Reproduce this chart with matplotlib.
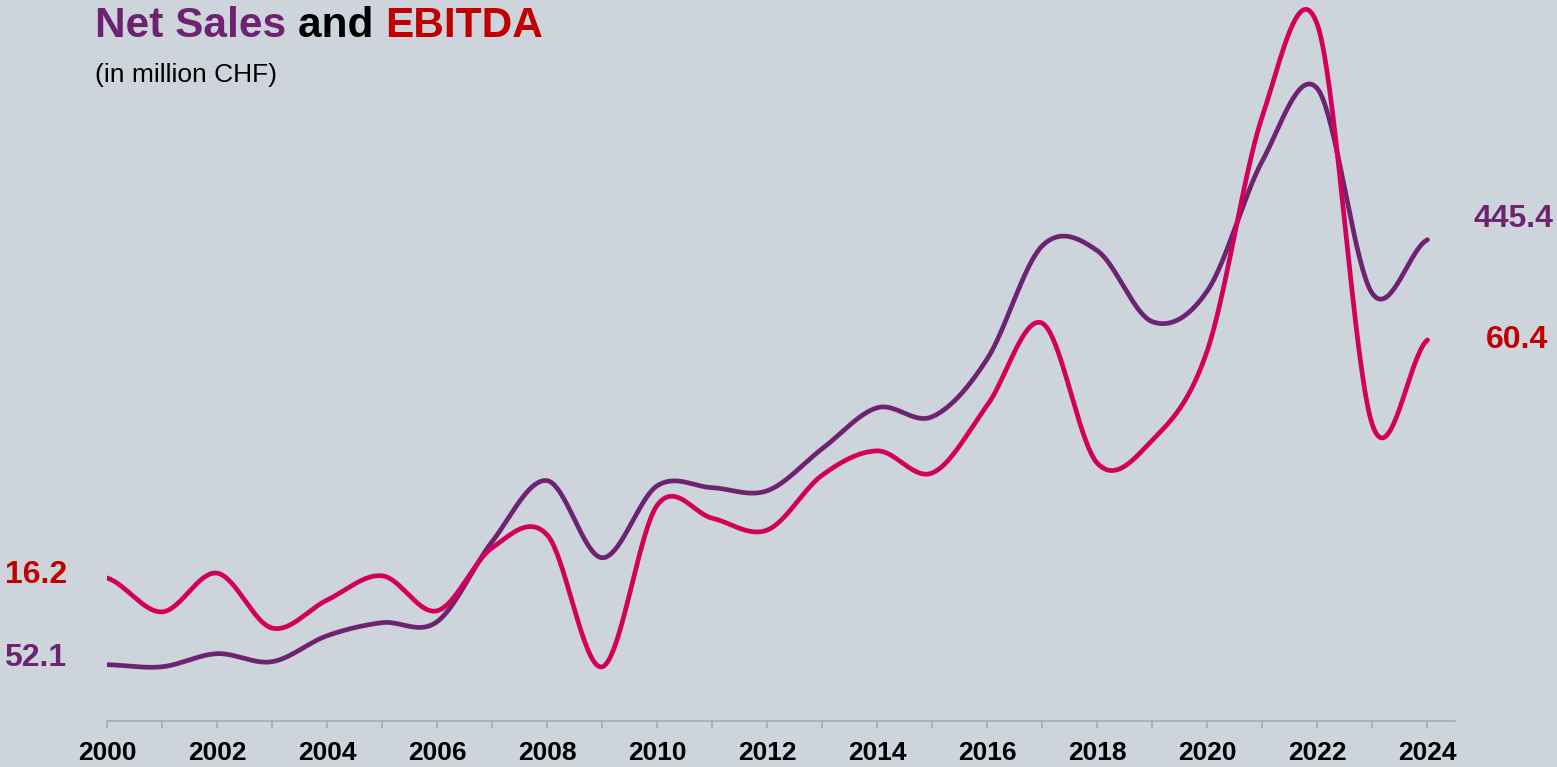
import numpy as np
import matplotlib
matplotlib.use("Agg")
import matplotlib.pyplot as plt

years = list(range(2000, 2025))
net_sales = [52.1, 50.2, 62.3, 54.9, 78.9, 91.0, 91.9, 166.0, 222.4, 151.1,
             217.7, 215.9, 213.1, 252.0, 289.9, 281.6, 335.3, 439.8, 435.2,
             369.5, 398.2, 518.5, 585.1, 395.4, 445.4]
ebitda = [16.2, 9.9, 17.1, 6.9, 12.1, 16.6, 10.1, 21.8, 24.2, -0.3,
          29.7, 27.3, 25.1, 35.3, 39.8, 35.7, 48.3, 63.5, 37.5,
          41.8, 58.5, 102.0, 118.9, 44.6, 60.4]
tick_years = list(range(2000, 2025, 2))

BG = "#CDD4DB"
PURPLE = "#6E2372"
PINK = "#D2005A"
RED = "#C00000"
AXC = "#A3ADB7"


def smooth(x, y, n=40):
    """Catmull-Rom style smoothed line through every data point."""
    x = np.asarray(x, float)
    y = np.asarray(y, float)
    yp = np.concatenate([[y[0]], y, [y[-1]]])
    xs, ys = [], []
    for i in range(len(x) - 1):
        m0 = (yp[i + 2] - yp[i]) / 2.0
        m1 = (yp[i + 3] - yp[i + 1]) / 2.0
        t = np.linspace(0, 1, n, endpoint=(i == len(x) - 2))
        h00 = 2 * t**3 - 3 * t**2 + 1
        h10 = t**3 - 2 * t**2 + t
        h01 = -2 * t**3 + 3 * t**2
        h11 = t**3 - t**2
        ys.append(h00 * y[i] + h10 * m0 + h01 * y[i + 1] + h11 * m1)
        xs.append(x[i] + t * (x[i + 1] - x[i]))
    return np.concatenate(xs), np.concatenate(ys)


plt.rcParams["font.family"] = ["Liberation Sans", "DejaVu Sans"]

W, H = 1557, 767
fig = plt.figure(figsize=(W / 100, H / 100), dpi=100, facecolor=BG)

left = 107 / W
right = 1455 / W
bottom = 1 - 721 / H
ax = fig.add_axes([left, bottom, right - left, 1 - bottom])
ax.set_facecolor("none")
ax2 = ax.twinx()
ax2.set_facecolor("none")

sx, sy = smooth(years, net_sales)
ex, ey = smooth(years, ebitda)
ax.plot(sx, sy, color=PURPLE, lw=3.4, solid_capstyle="round", zorder=3)
ax2.plot(ex, ey, color=PINK, lw=3.4, solid_capstyle="round", zorder=4)

ax.set_xlim(2000, 2024.5)
ax.set_ylim(0, 721 / 1.0806)
ax2.set_ylim((665.2 - 721) / 5.385, 665.2 / 5.385)

for a in (ax, ax2):
    for s in ("top", "right", "left", "bottom"):
        a.spines[s].set_visible(False)
    a.set_yticks([])
ax.spines["bottom"].set_visible(True)
ax.spines["bottom"].set_color(AXC)
ax.spines["bottom"].set_linewidth(1.2)

ax.set_xticks(years, minor=True)
ax.set_xticks(tick_years)
ax.set_xticklabels([str(y) for y in tick_years], fontsize=19, fontweight="bold")
ax.tick_params(axis="x", which="both", length=5, width=1.2, color=AXC, pad=9.5)

# value labels
fig.text(35 / W, 1 - 658 / H, f"{net_sales[0]:.1f}", ha="center", va="center",
         fontsize=23, fontweight="bold", color=PURPLE)
fig.text(36 / W, 1 - 575 / H, f"{ebitda[0]:.1f}", ha="center", va="center",
         fontsize=23, fontweight="bold", color=RED)
fig.text(1513 / W, 1 - 219 / H, f"{net_sales[-1]:.1f}", ha="center", va="center",
         fontsize=23, fontweight="bold", color=PURPLE)
fig.text(1517 / W, 1 - 340 / H, f"{ebitda[-1]:.1f}", ha="center", va="center",
         fontsize=23, fontweight="bold", color=RED)

# title
fig.canvas.draw()
r = fig.canvas.get_renderer()
x0 = 95 / W
yb = 1 - 37 / H
parts = [("Net Sales ", PURPLE), ("and ", "black"), ("EBITDA", RED)]
for txt, col in parts:
    t = fig.text(x0, yb, txt, ha="left", va="baseline", fontsize=30.5,
                 fontweight="bold", color=col)
    bb = t.get_window_extent(renderer=r)
    x0 += bb.width / W
fig.text(95 / W, 1 - 82 / H, "(in million CHF)", ha="left", va="baseline",
         fontsize=19, color="black")

fig.savefig("out.png", dpi=100, facecolor=BG)
